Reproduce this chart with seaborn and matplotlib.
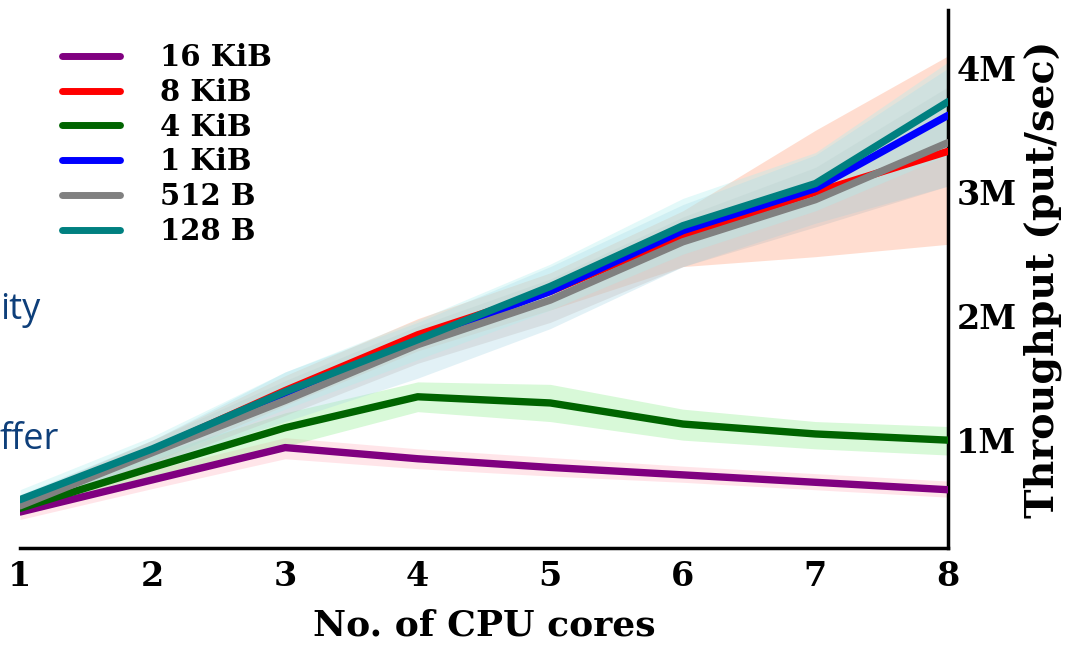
import matplotlib
matplotlib.use("Agg")
import matplotlib.pyplot as plt
import seaborn as sns
import pandas as pd

# ---------------- data ----------------
cores = [1, 2, 3, 4, 5, 6, 7, 8]
series_names = ["16 KiB", "8 KiB", "4 KiB", "1 KiB", "512 B", "128 B"]

# mean throughput (millions of put/sec)
kib16_mean = [0.42, 0.68, 0.94, 0.85, 0.78, 0.72, 0.66, 0.60]
kib8_mean = [0.47, 0.92, 1.40, 1.85, 2.20, 2.65, 3.00, 3.33]
kib4_mean = [0.45, 0.78, 1.10, 1.35, 1.30, 1.13, 1.05, 1.00]
kib1_mean = [0.49, 0.92, 1.38, 1.80, 2.20, 2.69, 3.03, 3.62]
b512_mean = [0.47, 0.90, 1.32, 1.77, 2.13, 2.60, 2.94, 3.40]
b128_mean = [0.52, 0.93, 1.39, 1.81, 2.24, 2.73, 3.07, 3.73]

# confidence band bounds
kib16_low = [0.36, 0.61, 0.85, 0.77, 0.71, 0.66, 0.60, 0.54]
kib16_high = [0.48, 0.76, 1.02, 0.93, 0.86, 0.79, 0.73, 0.67]
kib8_low = [0.40, 0.82, 1.28, 1.72, 2.05, 2.40, 2.48, 2.58]
kib8_high = [0.54, 1.00, 1.52, 1.98, 2.35, 2.85, 3.50, 4.10]
kib4_low = [0.40, 0.68, 0.95, 1.23, 1.15, 1.00, 0.93, 0.88]
kib4_high = [0.50, 0.88, 1.22, 1.47, 1.45, 1.25, 1.15, 1.11]
kib1_low = [0.42, 0.80, 1.15, 1.50, 1.90, 2.40, 2.75, 3.05]
kib1_high = [0.56, 1.00, 1.55, 1.95, 2.40, 2.90, 3.30, 4.00]
b512_low = [0.40, 0.80, 1.20, 1.62, 1.95, 2.40, 2.72, 3.05]
b512_high = [0.55, 1.00, 1.48, 1.92, 2.30, 2.80, 3.20, 3.85]
b128_low = [0.45, 0.83, 1.25, 1.65, 2.05, 2.50, 2.85, 3.30]
b128_high = [0.60, 1.03, 1.55, 1.97, 2.42, 2.95, 3.32, 4.05]

y_ticks = [1, 2, 3, 4]
y_ticklabels = ["1M", "2M", "3M", "4M"]

line_colors = ["#800080", "#ff0000", "#006400", "#0000ff", "#808080", "#008080"]
band_colors = ["#ffb6c1", "#ffa07a", "#90ee90", "#add8e6", "#c0c0c0", "#afeeee"]

means = [kib16_mean, kib8_mean, kib4_mean, kib1_mean, b512_mean, b128_mean]
lows = [kib16_low, kib8_low, kib4_low, kib1_low, b512_low, b128_low]
highs = [kib16_high, kib8_high, kib4_high, kib1_high, b512_high, b128_high]

rows = []
for name, m in zip(series_names, means):
    for c, v in zip(cores, m):
        rows.append({"cores": c, "tput": v, "size": name})
df = pd.DataFrame(rows)

# ---------------- figure ----------------
sns.set_style("white")
serif = ["DejaVu Serif"]
plt.rcParams["font.family"] = serif
plt.rcParams["font.weight"] = "bold"
plt.rcParams["text.color"] = "black"
plt.rcParams["axes.labelcolor"] = "black"
plt.rcParams["xtick.color"] = "black"
plt.rcParams["ytick.color"] = "black"

fig = plt.figure(figsize=(10.74, 6.46), dpi=100)
ax = fig.add_axes([20 / 1074, 1 - 548 / 646, 928 / 1074, 538 / 646])

for lo, hi, bc in zip(lows, highs, band_colors):
    ax.fill_between(cores, lo, hi, color=bc, alpha=0.35, linewidth=0, zorder=1)

sns.lineplot(data=df, x="cores", y="tput", hue="size", hue_order=series_names,
             palette=dict(zip(series_names, line_colors)), linewidth=5.3,
             errorbar=None, ax=ax, zorder=3)

ax.set_xlim(1, 8)
ax.set_ylim(0.13, 4.47)
ax.set_xticks(cores)
ax.set_xticklabels([str(c) for c in cores], fontsize=24, fontweight="bold", color="black")
ax.yaxis.tick_right()
ax.yaxis.set_label_position("right")
ax.set_yticks(y_ticks)
ax.set_yticklabels(y_ticklabels, fontsize=24, fontweight="bold", color="black")
ax.tick_params(axis="both", length=0)
ax.tick_params(axis="x", pad=9)
ax.tick_params(axis="y", pad=6)

ax.set_xlabel("No. of CPU cores", fontsize=26, fontweight="bold", labelpad=11, color="black")
ax.set_ylabel("Throughput (put/sec)", fontsize=28.5, fontweight="bold",
              rotation=90, labelpad=5, color="black")

for s in ["left", "top"]:
    ax.spines[s].set_visible(False)
for s in ["bottom", "right"]:
    ax.spines[s].set_visible(True)
    ax.spines[s].set_color("black")
    ax.spines[s].set_linewidth(2.5)

handles, labels = ax.get_legend_handles_labels()
leg = ax.legend(handles, labels, loc="upper left",
                bbox_to_anchor=(62 / 1074, 1 - 43 / 646),
                bbox_transform=fig.transFigure, frameon=False,
                prop={"family": serif, "weight": "bold", "size": 21},
                handlelength=2.0, handletextpad=1.35, labelspacing=0.2,
                borderpad=0, borderaxespad=0)
for t in leg.get_texts():
    t.set_color("black")
for h in leg.get_lines():
    h.set_linewidth(5)

# slide text fragments on the left
fig.text(0.0, 1 - 310 / 646, "ity", fontsize=26, color="#0e3f7a",
         family=["Open Sans", "DejaVu Sans"], fontweight="normal", va="center", ha="left")
fig.text(0.0, 1 - 440 / 646, "ffer", fontsize=26, color="#0e3f7a",
         family=["Open Sans", "DejaVu Sans"], fontweight="normal", va="center", ha="left")

fig.savefig("out.png", dpi=100)
